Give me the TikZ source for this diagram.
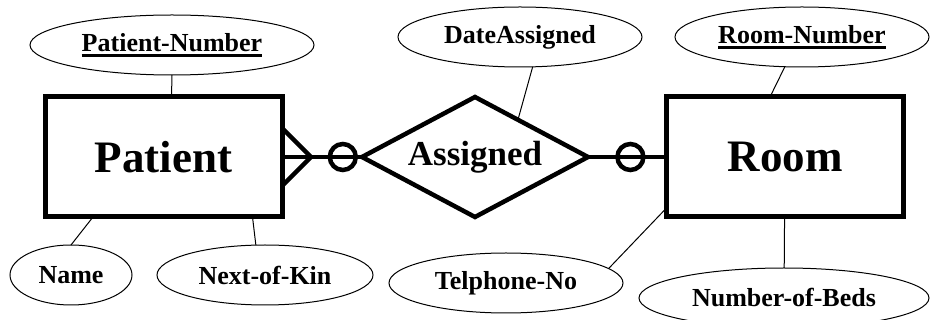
\documentclass[tikz,border=0pt]{standalone}
\usepackage{fontspec}
\setmainfont{Liberation Serif}
\usetikzlibrary{shapes.geometric,calc}
\newcommand{\keyattr}[1]{\vtop{\hbox{#1}\kern2.5pt\hrule height2.5pt}}
\begin{document}
\begin{tikzpicture}[x=1pt,y=-1pt,
  entity/.style={draw,line width=5pt,minimum width=237pt,minimum height=120pt,inner sep=0pt,outer sep=0pt,font=\fontsize{45}{50}\selectfont\bfseries},
  relship/.style={diamond,draw,line width=4.5pt,aspect=1.88,minimum width=226pt,minimum height=120pt,inner sep=0pt,outer sep=0pt,font=\fontsize{35}{40}\selectfont\bfseries},
  attr/.style={ellipse,draw,line width=1pt,minimum height=60pt,inner sep=0pt,outer sep=0pt,font=\fontsize{26}{30}\selectfont\bfseries},
  link/.style={line width=1pt},
  card/.style={line width=4.5pt},
  zero/.style={circle,draw,line width=4.5pt,minimum size=26pt,inner sep=0pt}]
\useasboundingbox (0,0) rectangle (930,320);
\node[entity] (patient) at (163.5,157) {Patient};
\node[entity] (room) at (785,157) {Room};
\node[relship] (assigned) at (475,157) {Assigned};
\node[attr,minimum width=284pt] (pnum) at (172,45) {\keyattr{Patient-Number}};
\node[attr,minimum width=244pt] (date) at (520,37) {DateAssigned};
\node[attr,minimum width=254pt] (rnum) at (802,37) {\keyattr{Room-Number}};
\node[attr,minimum width=122pt] (name) at (71,275) {Name};
\node[attr,minimum width=216pt] (kin) at (265,275) {Next-of-Kin};
\node[attr,minimum width=234pt] (tel) at (506,283) {Telphone-No};
\node[attr,minimum width=290pt] (beds) at (784,298) {Number-of-Beds};
\draw[link] (pnum.south) -- ([xshift=8pt]patient.north);
\draw[link] (date.-67) -- ($(assigned.north)!0.38!(assigned.east)$);
\draw[link] (rnum.-120) -- ([xshift=-15pt]room.north);
\draw[link] (name.north) -- ([xshift=48pt]patient.south west);
\draw[link] (kin.107) -- ([xshift=89pt]patient.south);
\draw[link] (tel.8) -- ([yshift=9pt]room.south west);
\draw[link] (room) -- (beds);
\coordinate (foot) at ($(patient.east)+(29,0)$);
\draw[card] ([yshift=29pt]patient.east) -- (foot) -- ([yshift=-29pt]patient.east);
\draw[card] (patient.east) -- node[zero,pos=0.76] {} (assigned.west);
\draw[card] (assigned.east) -- node[zero,pos=0.54] {} (room.west);
\end{tikzpicture}
\end{document}
